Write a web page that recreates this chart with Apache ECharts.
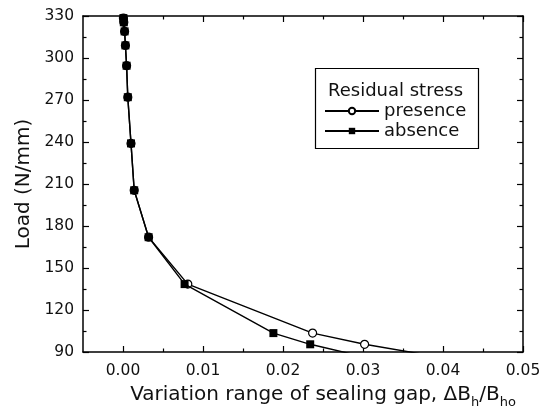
<!DOCTYPE html>
<html>
<head>
<meta charset="utf-8">
<script src="https://cdn.jsdelivr.net/npm/echarts@6/dist/echarts.min.js"></script>
<style>
html,body{margin:0;padding:0;background:#fff;}
#chart{width:545px;height:419px;}
</style>
</head>
<body>
<div id="chart"></div>
<script>
// Data
var loads = [328.5, 325.5, 319, 309, 294.5, 272, 239, 205.5, 172, 138.5, 103.5, 95.5, 84];
var presenceGap = [0.00005, 0.0001, 0.0002, 0.0003, 0.00045, 0.0006, 0.001, 0.0014, 0.0032, 0.0081, 0.0237, 0.0302, 0.042];
var absenceGap  = [0.00005, 0.0001, 0.0002, 0.0003, 0.00045, 0.0006, 0.001, 0.0014, 0.0032, 0.0077, 0.0188, 0.0234, 0.032];
var xMajorTicks = [0, 0.01, 0.02, 0.03, 0.04, 0.05];
var xMinorTicks = [0.005, 0.015, 0.025, 0.035, 0.045];
var seriesNames = ['presence', 'absence'];
var legendTitle = 'Residual stress';

function pairs(xs, ys) { return xs.map(function (x, i) { return [x, ys[i]]; }); }

var FONT = 'DejaVu Sans';
var black = '#000';

function xAxisCfg(pos, ticks, len, showLine, labels) {
  return {
    type: 'value', position: pos, min: -0.005, max: 0.05,
    axisLine: { show: showLine, onZero: false, lineStyle: { color: black, width: 1.5 } },
    axisTick: { show: true, inside: true, length: len, customValues: ticks, lineStyle: { color: black, width: 1.2 } },
    axisLabel: labels ? {
      show: true, customValues: ticks, margin: 11,
      fontFamily: FONT, fontSize: 15.5, color: '#111',
      formatter: function (v) { return v.toFixed(2); }
    } : { show: false },
    splitLine: { show: false }
  };
}

function yAxisCfg(pos, labels) {
  return {
    type: 'value', position: pos, min: 90, max: 330, interval: 30,
    axisLine: { show: true, onZero: false, lineStyle: { color: black, width: 1.5 } },
    axisTick: { show: true, inside: true, length: 6, lineStyle: { color: black, width: 1.2 } },
    minorTick: { show: true, splitNumber: 2, length: 3.5, lineStyle: { color: black, width: 1.2 } },
    axisLabel: labels ? { margin: 9, fontFamily: FONT, fontSize: 15.5, color: '#111' } : { show: false },
    splitLine: { show: false }
  };
}

var chart = echarts.init(document.getElementById('chart'), null, { renderer: 'canvas' });
var option = {
  backgroundColor: '#fff',
  animation: false,
  grid: { left: 83, right: 22, top: 16, bottom: 67 },
  xAxis: [
    Object.assign(xAxisCfg('bottom', xMajorTicks, 6, true, true), {
      name: 'Variation range of sealing gap, \u0394B{s|h}/B{s|ho}',
      nameLocation: 'middle', nameGap: 28,
      nameTextStyle: {
        fontFamily: FONT, fontSize: 20, color: '#111', padding: [0, 0, 0, 40],
        rich: { s: { fontFamily: FONT, fontSize: 13, color: '#111', padding: [16, 0, 0, 0] } }
      }
    }),
    xAxisCfg('bottom', xMinorTicks, 3.5, false, false),
    xAxisCfg('top', xMajorTicks, 6, true, false),
    xAxisCfg('top', xMinorTicks, 3.5, false, false)
  ],
  yAxis: [
    Object.assign(yAxisCfg('left', true), {
      name: 'Load (N/mm)', nameLocation: 'middle', nameGap: 43,
      nameTextStyle: { fontFamily: FONT, fontSize: 20, color: '#111' }
    }),
    yAxisCfg('right', false)
  ],
  legend: {
    orient: 'vertical', left: 324, top: 102,
    itemWidth: 54, itemHeight: 8, itemGap: 2,
    padding: 0,
    data: seriesNames,
    textStyle: { fontFamily: FONT, fontSize: 18, color: '#111', lineHeight: 18 }
  },
  graphic: [
    { type: 'rect', left: 313, top: 66, shape: { width: 163, height: 80 },
      style: { fill: 'none', stroke: black, lineWidth: 1.2 }, z: 100 },
    { type: 'text', left: 328, top: 82,
      style: { text: legendTitle, font: '18px "DejaVu Sans"', fill: '#111' }, z: 100 }
  ],
  series: [
    {
      name: seriesNames[0], type: 'line', xAxisIndex: 0, yAxisIndex: 0,
      data: pairs(presenceGap, loads),
      symbol: 'circle', symbolSize: 8, showAllSymbol: true,
      lineStyle: { color: black, width: 1.4 },
      itemStyle: { color: '#fff', borderColor: black, borderWidth: 1.2 },
      z: 2
    },
    {
      name: seriesNames[1], type: 'line', xAxisIndex: 0, yAxisIndex: 0,
      data: pairs(absenceGap, loads),
      symbol: 'rect', symbolSize: 8, showAllSymbol: true,
      lineStyle: { color: black, width: 1.4 },
      itemStyle: { color: black, borderColor: black, borderWidth: 0 },
      z: 3
    }
  ]
};
chart.setOption(option);
</script>
</body>
</html>
